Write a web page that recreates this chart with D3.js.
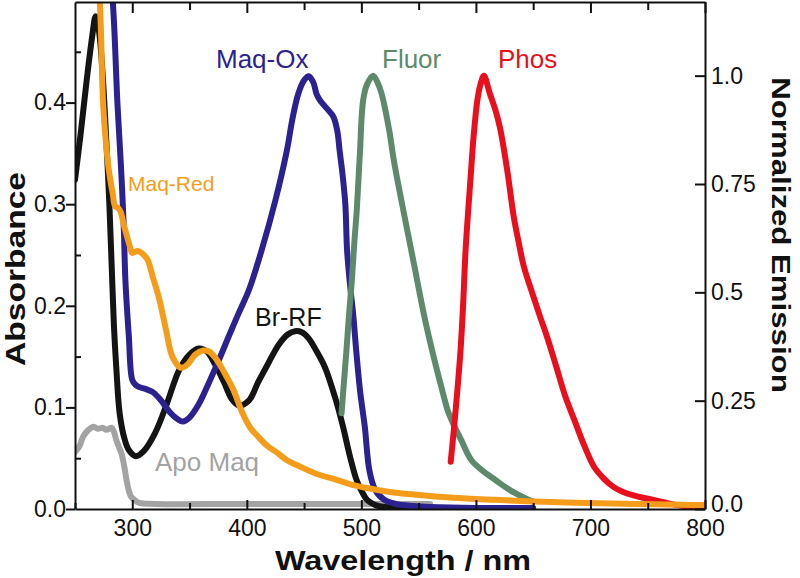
<!DOCTYPE html>
<html><head><meta charset="utf-8">
<script src="https://cdn.jsdelivr.net/npm/d3@7"></script>
<style>
html,body{margin:0;padding:0;background:#fff;}
text{font-family:"Liberation Sans",Arial,sans-serif;}
</style></head>
<body>
<svg id="chart" width="800" height="578"></svg>
<script>
// ---- Data (wavelength in nm, absorbance / normalized emission) ----
const brRF_nm  = [250,255,260,265,268,271,274,277,280,282,284,286,289,293,297,303,310,320,330,341,350,358,365,372,380,387,393,402,410,419,428,436,442,448,454,461,468,477,484,490,496,501,505,512,520,540];
const brRF_abs = [0.324,0.37,0.42,0.465,0.485,0.47,0.43,0.37,0.30,0.24,0.18,0.14,0.094,0.07,0.058,0.052,0.057,0.075,0.103,0.137,0.152,0.158,0.155,0.143,0.125,0.108,0.102,0.107,0.125,0.144,0.162,0.172,0.175,0.174,0.168,0.155,0.14,0.11,0.081,0.052,0.028,0.016,0.009,0.004,0.002,0.001];

const maqOx_nm  = [280,284,287,290,292.5,294,297,300,303,306,312,318,325,333,340,344,350,358,366,375,385,393,402,413,425,435,440,445,450,454,458,461,464,470,475.6,479,481,483.5,486,487.5,490,493,495.5,499,503,507,512,520,530,545,560,600,650];
const maqOx_abs = [0.55,0.48,0.40,0.34,0.28,0.225,0.17,0.127,0.122,0.120,0.118,0.115,0.107,0.095,0.088,0.086,0.09,0.103,0.122,0.145,0.172,0.193,0.216,0.255,0.304,0.353,0.385,0.409,0.422,0.426,0.42,0.408,0.402,0.394,0.386,0.372,0.353,0.33,0.30,0.255,0.222,0.19,0.156,0.115,0.081,0.038,0.019,0.009,0.005,0.003,0.002,0.001,0.001];

const maqRed_nm  = [268,271.7,274.5,277,280,283,285,288,290,292.5,295,298,300,304,307,313,318,323.7,329.5,335,342.5,348,355,362,367,373,380,388,396,403,410,418,427,435,444,460,479,495,513,530,548,580,617,650,686,740,789,800];
const maqRed_abs = [0.55,0.498,0.40,0.36,0.33,0.31,0.298,0.296,0.292,0.28,0.27,0.258,0.252,0.254,0.253,0.246,0.228,0.206,0.176,0.15,0.139,0.142,0.152,0.156,0.155,0.148,0.135,0.118,0.095,0.08,0.071,0.062,0.055,0.048,0.043,0.035,0.0285,0.023,0.019,0.016,0.014,0.011,0.009,0.0075,0.0062,0.005,0.004,0.004];

const apo_nm  = [250,254,257,261,266,270,274,277.5,282,284,286,288,290.5,293,295,297,299,303,306,320,400,500,560];
const apo_abs = [0.056,0.062,0.071,0.077,0.081,0.079,0.08,0.078,0.08,0.076,0.068,0.062,0.055,0.042,0.0285,0.018,0.012,0.008,0.006,0.005,0.005,0.005,0.005];

const fluor_nm  = [482.7,485,487,489,491.5,494,496,498.7,501.6,505,510.3,514,517.5,521,524.7,528,532,537.7,546.4,555,563.8,570,575.3,578.8,587,596,606,617,626,634,644.5,650];
const fluor_em  = [0.221,0.30,0.367,0.44,0.521,0.62,0.69,0.82,0.944,0.98,1.0,0.985,0.96,0.92,0.868,0.81,0.752,0.675,0.559,0.444,0.344,0.28,0.228,0.205,0.16,0.113,0.088,0.067,0.05,0.037,0.023,0.017];

const phos_nm = [578,581,584,586.6,589,591,595.5,598,601.3,604,607,612,617,621,624.5,628,633,637,641.9,649,656,662,670,678,686,694,703,711,720,728,737,746,755,765,776,790,800];
const phos_em = [0.109,0.19,0.28,0.367,0.48,0.598,0.77,0.86,0.944,0.98,1.0,0.96,0.921,0.88,0.829,0.77,0.675,0.62,0.559,0.5,0.444,0.398,0.33,0.26,0.205,0.15,0.098,0.072,0.051,0.04,0.032,0.026,0.021,0.015,0.009,0.004,0.002];

const xTicks = [300,400,500,600,700,800];
const xMinor = [250,350,450,550,650,750];
const yLeftTicks = [0,0.1,0.2,0.3,0.4];
const yLeftMinor = [0.05,0.15,0.25,0.35,0.45];
const yRightTicks = [0,0.25,0.5,0.75,1.0];
const yRightLabels = ["0.0","0.25","0.5","0.75","1.0"];

// ---- Layout ----
const L = 75, R = 705, T = 2, B = 509;
const svg = d3.select("#chart");
const x = d3.scaleLinear().domain([250,800]).range([L,R]);
const yL = d3.scaleLinear().domain([0,0.499]).range([B,T]);
const yR = d3.scaleLinear().domain([0,1.17]).range([B,T]);

svg.append("defs").append("clipPath").attr("id","clip")
  .append("rect").attr("x",L).attr("y",T).attr("width",R-L).attr("height",B-T);

function series(nm, vals, yScale, color){
  const pts = nm.map((d,i)=>[d, vals[i]]);
  const line = d3.line().x(d=>x(d[0])).y(d=>yScale(d[1])).curve(d3.curveCatmullRom.alpha(0.5));
  svg.append("path").attr("clip-path","url(#clip)")
    .attr("d", line(pts)).attr("fill","none").attr("stroke",color)
    .attr("stroke-width",6).attr("stroke-linejoin","round").attr("stroke-linecap","round");
}
series(apo_nm, apo_abs, yL, "#a3a3a3");
series(brRF_nm, brRF_abs, yL, "#141414");
series(maqOx_nm, maqOx_abs, yL, "#2b2290");
series(fluor_nm, fluor_em, yR, "#5e8a6c");
series(phos_nm, phos_em, yR, "#e8101c");
series(maqRed_nm, maqRed_abs, yL, "#f59d1b");

// ---- Axes ----
const fmt1 = d3.format(".1f");
function styleAxis(g){
  g.select(".domain").attr("stroke","#111").attr("stroke-width",2);
  g.selectAll(".tick line").attr("stroke","#111").attr("stroke-width",2);
  g.selectAll("text").attr("font-size",23).attr("fill","#111").attr("font-family","Liberation Sans, Arial, sans-serif");
}
// bottom
const gB = svg.append("g").attr("transform",`translate(0,${B})`)
  .call(d3.axisBottom(x).tickValues(xTicks).tickFormat(d3.format("d")).tickSizeInner(-9).tickSizeOuter(0).tickPadding(11));
styleAxis(gB);
svg.append("g").attr("transform",`translate(0,${B})`)
  .call(d3.axisBottom(x).tickValues(xMinor).tickFormat("").tickSizeInner(-6).tickSizeOuter(0))
  .call(g=>{g.select(".domain").remove(); g.selectAll("line").attr("stroke","#111").attr("stroke-width",2);});
// top
const gT = svg.append("g").attr("transform",`translate(0,${T})`)
  .call(d3.axisTop(x).tickValues(xTicks).tickFormat("").tickSizeInner(-11).tickSizeOuter(0));
styleAxis(gT);
svg.append("g").attr("transform",`translate(0,${T})`)
  .call(d3.axisTop(x).tickValues(xMinor.slice(1)).tickFormat("").tickSizeInner(-8).tickSizeOuter(0))
  .call(g=>{g.select(".domain").remove(); g.selectAll("line").attr("stroke","#111").attr("stroke-width",2);});
// left
const gL = svg.append("g").attr("transform",`translate(${L},0)`)
  .call(d3.axisLeft(yL).tickValues(yLeftTicks).tickFormat(fmt1).tickSizeInner(9).tickSizeOuter(0).tickPadding(0));
styleAxis(gL);
svg.append("g").attr("transform",`translate(${L},0)`)
  .call(d3.axisLeft(yL).tickValues(yLeftMinor).tickFormat("").tickSizeInner(-6).tickSizeOuter(0))
  .call(g=>{g.select(".domain").remove(); g.selectAll("line").attr("stroke","#111").attr("stroke-width",2);});
// right
const gR = svg.append("g").attr("transform",`translate(${R},0)`)
  .call(d3.axisRight(yR).tickValues(yRightTicks).tickFormat((d,i)=>yRightLabels[i]).tickSizeInner(-10).tickSizeOuter(0).tickPadding(6));
styleAxis(gR);
gR.selectAll(".tick").filter(d=>d===0).select("text").attr("dy","0.1em");

// ---- Axis titles ----
svg.append("text").attr("transform","translate(25,269) rotate(-90) scale(1.2,1)")
  .attr("text-anchor","middle").attr("font-weight","bold").attr("font-size",28).attr("fill","#111")
  .text("Absorbance");
svg.append("text").attr("transform","translate(772,235) rotate(90) scale(1.2,1)")
  .attr("text-anchor","middle").attr("font-weight","bold").attr("font-size",26).attr("fill","#111")
  .text("Normalized Emission");
svg.append("text").attr("transform","translate(403,570) scale(1.2,1)")
  .attr("text-anchor","middle").attr("font-weight","bold").attr("font-size",27).attr("fill","#111")
  .text("Wavelength / nm");

// ---- Series labels ----
const labels = [
  {t:"Maq-Ox", x:216, y:68, c:"#2b2290", s:26},
  {t:"Fluor", x:382, y:68, c:"#5e8a6c", s:26},
  {t:"Phos", x:498, y:68, c:"#e8101c", s:26},
  {t:"Maq-Red", x:128, y:191, c:"#f59d1b", s:21},
  {t:"Br-RF", x:255, y:326, c:"#141414", s:25},
  {t:"Apo Maq", x:155, y:471, c:"#a3a3a3", s:26}
];
svg.selectAll("text.lbl").data(labels).enter().append("text").attr("class","lbl")
  .attr("x",d=>d.x).attr("y",d=>d.y).attr("fill",d=>d.c).attr("font-size",d=>d.s).text(d=>d.t);
</script>
</body></html>
